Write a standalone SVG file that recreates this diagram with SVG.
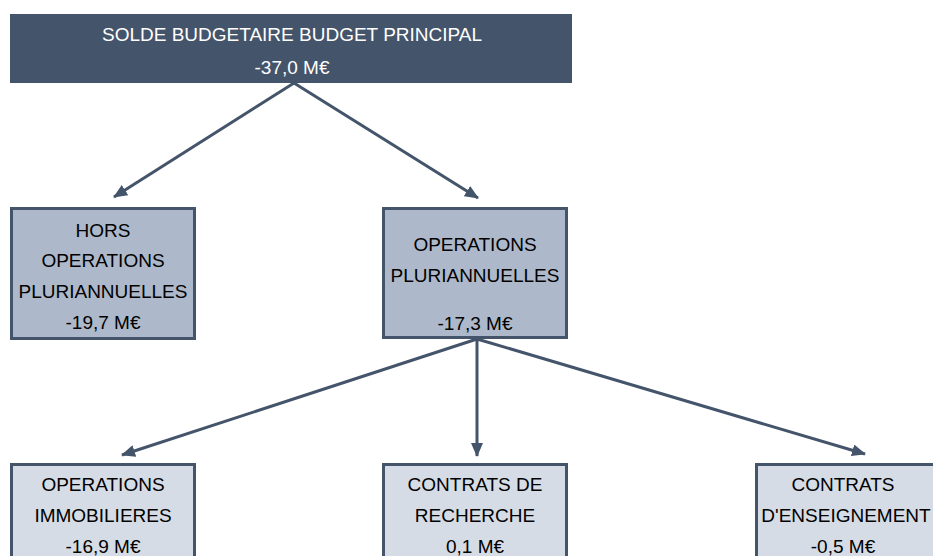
<svg xmlns="http://www.w3.org/2000/svg" width="933" height="556" viewBox="0 0 933 556">
<style>
text{font-family:"Liberation Sans",Arial,sans-serif;font-size:19px;text-anchor:middle}
.top rect{fill:#44546A}
.top text{fill:#FFFFFF}
.mid rect{fill:#ADB9CA;stroke:#44546A;stroke-width:3}
.bot rect{fill:#D6DCE5;stroke:#44546A;stroke-width:3}
.mid text,.bot text{fill:#000000}
#connectors line{stroke:#44546A;stroke-width:3;fill:none;marker-end:url(#arr)}
</style>
<defs>
<marker id="arr" markerUnits="userSpaceOnUse" markerWidth="14" markerHeight="12" refX="13" refY="6" orient="auto" viewBox="0 0 14 12">
<path d="M0,0 L14,6 L0,12 z" fill="#44546A"/>
</marker>
</defs>
<rect width="933" height="556" fill="#FFFFFF"/>
<g id="connectors">
<line x1="294" y1="83" x2="114" y2="197"/>
<line x1="294" y1="83" x2="478" y2="198"/>
<line x1="477" y1="339" x2="122" y2="455"/>
<line x1="477" y1="339" x2="477" y2="456"/>
<line x1="477" y1="339" x2="865" y2="454"/>
</g>
<g id="solde" class="top">
<rect x="10" y="14" width="562" height="69"/>
<text x="292" y="41">SOLDE BUDGETAIRE BUDGET PRINCIPAL</text>
<text x="292" y="74">-37,0 M€</text>
</g>
<g id="hors" class="mid">
<rect x="11.5" y="208.5" width="183" height="130"/>
<text x="103" y="237">HORS</text>
<text x="103" y="267">OPERATIONS</text>
<text x="103" y="298">PLURIANNUELLES</text>
<text x="103" y="329">-19,7 M€</text>
</g>
<g id="pluri" class="mid">
<rect x="383.5" y="208.5" width="183" height="129"/>
<text x="475" y="251">OPERATIONS</text>
<text x="475" y="282">PLURIANNUELLES</text>
<text x="475" y="330">-17,3 M€</text>
</g>
<g id="immo" class="bot">
<rect x="11.5" y="464.5" width="183" height="100"/>
<text x="103" y="491">OPERATIONS</text>
<text x="103" y="522">IMMOBILIERES</text>
<text x="103" y="553">-16,9 M€</text>
</g>
<g id="recherche" class="bot">
<rect x="383.5" y="464.5" width="183" height="100"/>
<text x="475" y="491">CONTRATS DE</text>
<text x="475" y="522">RECHERCHE</text>
<text x="475" y="553">0,1 M€</text>
</g>
<g id="enseignement" class="bot">
<rect x="756.5" y="464.5" width="183" height="100"/>
<text x="843" y="491">CONTRATS</text>
<text x="846" y="522">D'ENSEIGNEMENT</text>
<text x="843" y="553">-0,5 M€</text>
</g>
</svg>
